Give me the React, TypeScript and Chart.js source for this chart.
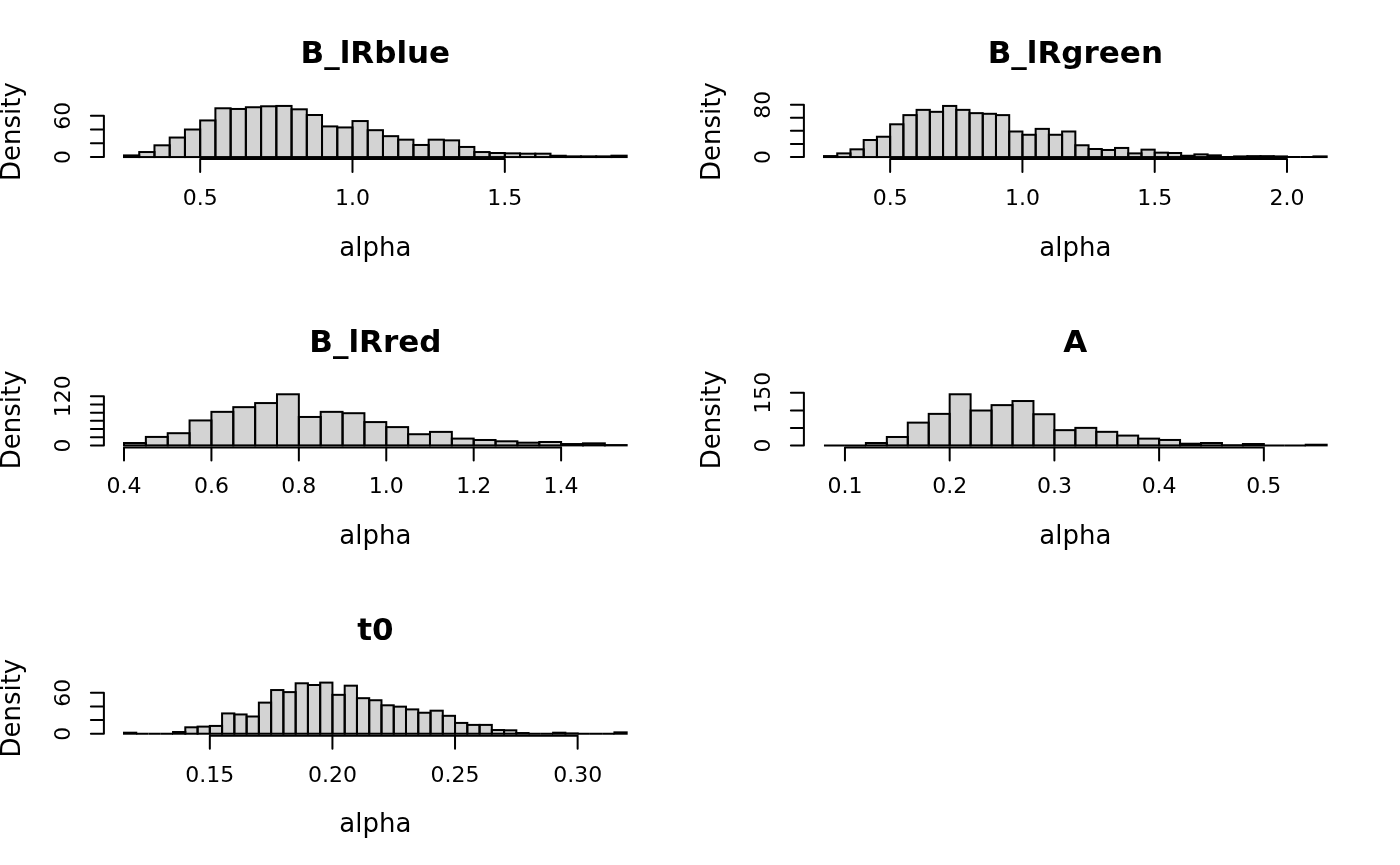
import React, { useEffect, useRef } from "react";
import { Chart, registerables } from "chart.js";

Chart.register(...registerables);

// ---------------- data ----------------
const blueBinStart = 0.25;
const blueBinWidth = 0.05;
const blueDensity = [2.4, 7.3, 17.1, 28.4, 40.1, 53.3, 71, 70, 72.5, 73.9, 74.4, 69.5, 61.2, 44.6, 43.1, 52.4, 39.1, 30.4, 25.3, 17.6, 25.3, 24.3, 14.7, 7.3, 5.9, 5.4, 4.9, 4.9, 1.9, 1, 1, 1, 2];
const blueXTicks = [0.5, 1.0, 1.5];
const blueXLabels = ["0.5", "1.0", "1.5"];
const blueYTicks = [0, 20, 40, 60];
const blueYLabels = ["0", "", "", "60"];

const greenBinStart = 0.25;
const greenBinWidth = 0.05;
const greenDensity = [1.5, 5.6, 11.8, 26, 31, 50, 64, 72, 69, 78, 72, 67, 66, 64, 39, 34, 43, 34, 39, 18, 12.3, 10.8, 13.9, 5.6, 11.3, 6.7, 6.2, 2, 4.1, 2.6, 0, 1, 1.4, 1.4, 1, 0, 0, 1];
const greenXTicks = [0.5, 1.0, 1.5, 2.0];
const greenXLabels = ["0.5", "1.0", "1.5", "2.0"];
const greenYTicks = [0, 20, 40, 60, 80];
const greenYLabels = ["0", "", "", "", "80"];

const redBinStart = 0.4;
const redBinWidth = 0.05;
const redDensity = [5.8, 20.7, 29.8, 61, 82, 93.5, 103.5, 125, 69.5, 82, 78.7, 57, 44.7, 27.3, 33, 16.6, 13.2, 10, 6.6, 8.3, 3.3, 5, 0.8];
const redXTicks = [0.4, 0.6, 0.8, 1.0, 1.2, 1.4];
const redXLabels = ["0.4", "0.6", "0.8", "1.0", "1.2", "1.4"];
const redYTicks = [0, 20, 40, 60, 80, 100, 120];
const redYLabels = ["0", "", "", "", "", "", "120"];

const aBinStart = 0.08;
const aBinWidth = 0.02;
const aDensity = [0, 0, 6.8, 24, 65, 90, 146, 99.6, 115, 126.7, 89, 43.5, 50, 38.7, 28, 19.3, 15.5, 4.8, 6.8, 0.5, 3.9, 0, 0, 1.9];
const aXTicks = [0.1, 0.2, 0.3, 0.4, 0.5];
const aXLabels = ["0.1", "0.2", "0.3", "0.4", "0.5"];
const aYTicks = [0, 50, 100, 150];
const aYLabels = ["0", "", "", "150"];

const t0BinStart = 0.115;
const t0BinWidth = 0.005;
const t0Density = [1.5, 0, 0, 0, 2.5, 9.4, 10.4, 11.4, 29.7, 28.2, 25.2, 45.5, 63.9, 60.9, 73.8, 71.3, 74.8, 56.9, 70.3, 52, 49, 41.6, 39.6, 35.6, 30.7, 33.7, 26.2, 15.8, 12.9, 12.9, 5.4, 5, 1, 0, 0, 1.5, 0.5, 0, 0, 0, 2];
const t0XTicks = [0.15, 0.2, 0.25, 0.3];
const t0XLabels = ["0.15", "0.20", "0.25", "0.30"];
const t0YTicks = [0, 20, 40, 60];
const t0YLabels = ["0", "", "", "60"];

const titles = ["B_lRblue", "B_lRgreen", "B_lRred", "A", "t0"];
const xAxisTitle = "alpha";
const yAxisTitle = "Density";

// ---------------- layout ----------------
const W = 1400;
const H = 865;
const FIG_W = 700;
const FIG_H = H / 3;
const LINE = 25.34;
const MAR = { bottom: 5.1 * LINE, left: 4.1 * LINE, top: 4.1 * LINE, right: 2.1 * LINE };
const FONT = '"DejaVu Sans", "Bitstream Vera Sans", sans-serif';

type Panel = {
  title: string;
  start: number;
  width: number;
  values: number[];
  xTicks: number[];
  xLabels: string[];
  yTicks: number[];
  yLabels: string[];
  col: number;
  row: number;
};

const panels: Panel[] = [
  { title: titles[0], start: blueBinStart, width: blueBinWidth, values: blueDensity, xTicks: blueXTicks, xLabels: blueXLabels, yTicks: blueYTicks, yLabels: blueYLabels, col: 0, row: 0 },
  { title: titles[1], start: greenBinStart, width: greenBinWidth, values: greenDensity, xTicks: greenXTicks, xLabels: greenXLabels, yTicks: greenYTicks, yLabels: greenYLabels, col: 1, row: 0 },
  { title: titles[2], start: redBinStart, width: redBinWidth, values: redDensity, xTicks: redXTicks, xLabels: redXLabels, yTicks: redYTicks, yLabels: redYLabels, col: 0, row: 1 },
  { title: titles[3], start: aBinStart, width: aBinWidth, values: aDensity, xTicks: aXTicks, xLabels: aXLabels, yTicks: aYTicks, yLabels: aYLabels, col: 1, row: 1 },
  { title: titles[4], start: t0BinStart, width: t0BinWidth, values: t0Density, xTicks: t0XTicks, xLabels: t0XLabels, yTicks: t0YTicks, yLabels: t0YLabels, col: 0, row: 2 },
];

function makePlugin(p: Panel) {
  return {
    id: "rhist",
    afterDatasetsDraw(chart: any) {
      const ctx = chart.ctx as CanvasRenderingContext2D;
      const xs = chart.scales.x;
      const ys = chart.scales.y;
      const area = chart.chartArea;
      ctx.save();
      ctx.strokeStyle = "#000";
      ctx.fillStyle = "#000";
      ctx.lineWidth = 2;
      ctx.lineCap = "round";
      // bar outlines
      const meta = chart.getDatasetMeta(0);
      meta.data.forEach((el: any) => {
        const { x, y, base, width } = el.getProps(["x", "y", "base", "width"], true);
        const top = Math.min(y, base);
        ctx.strokeRect(x - width / 2, top, width, Math.abs(base - y));
      });
      // x axis
      const yb = area.bottom;
      const tl = 13;
      ctx.beginPath();
      ctx.moveTo(xs.getPixelForValue(p.xTicks[0]), yb);
      ctx.lineTo(xs.getPixelForValue(p.xTicks[p.xTicks.length - 1]), yb);
      p.xTicks.forEach((t) => {
        const px = xs.getPixelForValue(t);
        ctx.moveTo(px, yb);
        ctx.lineTo(px, yb + tl);
      });
      ctx.stroke();
      ctx.font = `22px ${FONT}`;
      ctx.textAlign = "center";
      ctx.textBaseline = "alphabetic";
      p.xTicks.forEach((t, i) => {
        ctx.fillText(p.xLabels[i], xs.getPixelForValue(t), yb + 46);
      });
      // y axis
      const xl = area.left;
      ctx.beginPath();
      ctx.moveTo(xl, ys.getPixelForValue(p.yTicks[0]));
      ctx.lineTo(xl, ys.getPixelForValue(p.yTicks[p.yTicks.length - 1]));
      p.yTicks.forEach((t) => {
        const py = ys.getPixelForValue(t);
        ctx.moveTo(xl, py);
        ctx.lineTo(xl - tl, py);
      });
      ctx.stroke();
      p.yTicks.forEach((t, i) => {
        if (!p.yLabels[i]) return;
        ctx.save();
        ctx.translate(xl - 33.4, ys.getPixelForValue(t));
        ctx.rotate(-Math.PI / 2);
        ctx.fillText(p.yLabels[i], 0, 0);
        ctx.restore();
      });
      // axis titles
      ctx.font = `26px ${FONT}`;
      const cx = (area.left + area.right) / 2;
      const cy = (area.top + area.bottom) / 2;
      ctx.fillText(xAxisTitle, cx, yb + 96.6);
      ctx.save();
      ctx.translate(xl - 84, cy);
      ctx.rotate(-Math.PI / 2);
      ctx.fillText(yAxisTitle, 0, 0);
      ctx.restore();
      // main title
      ctx.font = `bold 31px ${FONT}`;
      ctx.fillText(p.title, cx, area.top - 40.6);
      ctx.restore();
    },
  };
}

function HistPanel({ p }: { p: Panel }) {
  const ref = useRef<HTMLCanvasElement | null>(null);
  const fy = p.row * FIG_H;
  const top = Math.round(fy);
  const off = fy - top;
  const cw = FIG_W;
  const ch = 290;
  useEffect(() => {
    if (!ref.current) return;
    const n = p.values.length;
    const lo = p.start;
    const hi = p.start + n * p.width;
    const xr = hi - lo;
    const ymax = Math.max(...p.values);
    const pts = p.values.map((v, i) => ({ x: lo + (i + 0.5) * p.width, y: v }));
    const chart = new Chart(ref.current, {
      type: "bar",
      data: {
        datasets: [
          {
            data: pts as any,
            backgroundColor: "#D3D3D3",
            borderWidth: 0,
            barPercentage: 1,
            categoryPercentage: 1,
          },
        ],
      },
      options: {
        responsive: false,
        animation: false,
        devicePixelRatio: 1,
        events: [],
        layout: {
          padding: {
            left: MAR.left,
            right: MAR.right,
            top: MAR.top + off,
            bottom: ch - (off + FIG_H - MAR.bottom),
          },
        },
        plugins: {
          legend: { display: false },
          tooltip: { enabled: false },
          title: { display: false },
        },
        scales: {
          x: {
            type: "linear",
            display: false,
            offset: false,
            min: lo - 0.04 * xr,
            max: hi + 0.04 * xr,
            ticks: { includeBounds: false, maxTicksLimit: 4 },
            grid: { display: false },
          },
          y: {
            type: "linear",
            display: false,
            min: -0.04 * ymax,
            max: 1.04 * ymax,
            grid: { display: false },
          },
        },
      } as any,
      plugins: [makePlugin(p)],
    });
    return () => chart.destroy();
  }, []);
  return (
    <canvas
      ref={ref}
      width={cw}
      height={ch}
      style={{ position: "absolute", left: p.col * FIG_W, top, width: cw, height: ch }}
    />
  );
}

export default function App() {
  return (
    <div
      style={{
        position: "fixed",
        left: 0,
        top: 0,
        width: W,
        height: H,
        background: "#ffffff",
        overflow: "hidden",
      }}
    >
      {panels.map((p, i) => (
        <HistPanel key={i} p={p} />
      ))}
    </div>
  );
}
